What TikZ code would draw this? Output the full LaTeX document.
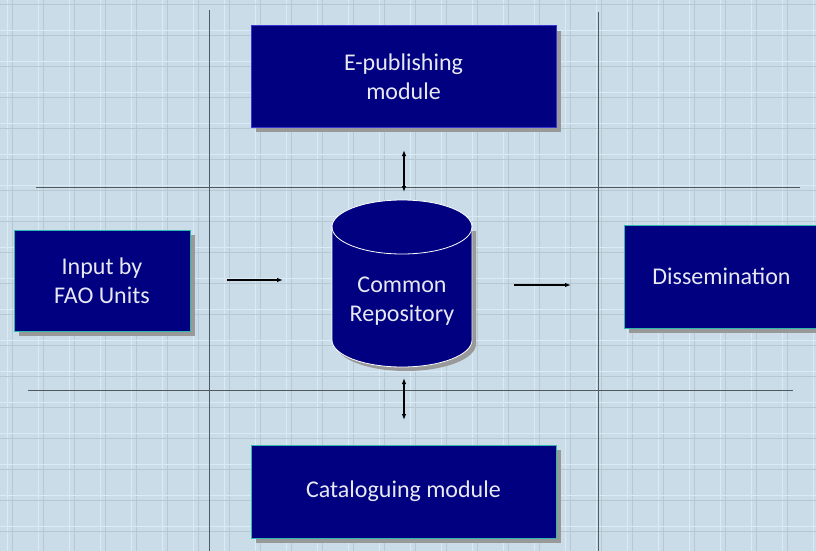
\documentclass[tikz,border=0pt]{standalone}
\usepackage{fontspec}
\setmainfont{Carlito}
\usetikzlibrary{arrows.meta}
\definecolor{bgblue}{HTML}{C9DCE8}
\definecolor{gridlight}{HTML}{D9EBF6}
\definecolor{gridgray}{HTML}{B7C8D3}
\definecolor{boxnavy}{HTML}{000080}
\definecolor{boxedge}{HTML}{2FB8B0}
\definecolor{boxedgeblue}{HTML}{3838D0}
\definecolor{textpale}{HTML}{E8E8F2}
\definecolor{rule}{HTML}{505A60}
\tikzset{
  modbox/.style={draw=boxedge, line width=1pt, fill=boxnavy, text=textpale,
    font=\fontsize{24}{29}\selectfont, align=center, inner sep=0pt},
  shadowbox/.style={fill=black!40, draw=none},
  flow/.style={-{Latex[length=6pt,width=4.5pt]}, line width=1.1pt},
  biflow/.style={{Latex[length=6pt,width=4.5pt]}-{Latex[length=6pt,width=4.5pt]}, line width=1.1pt},
  divider/.style={draw=rule, line width=0.6pt}
}
\begin{document}
\begin{tikzpicture}[x=1pt,y=-1pt]
% background and plaid grid
\fill[bgblue] (0,0) rectangle (816,551);
\useasboundingbox (0,0) rectangle (816,551);
\foreach \k in {0,...,26} {
  \draw[gridgray, line width=0.6pt] ({12+31*\k},0) -- ({12+31*\k},551);
  \draw[gridlight, line width=0.9pt] ({7+31*\k},0) -- ({7+31*\k},551);
}
\foreach \k in {0,...,18} {
  \draw[gridgray, line width=0.6pt] (0,{4+31*\k}) -- (816,{4+31*\k});
  \draw[gridlight, line width=0.9pt] (0,{-1+31*\k}) -- (816,{-1+31*\k});
}
% dividing lines
\draw[divider] (209,10) -- (209,551);
\draw[divider] (598,12) -- (598,551);
\draw[divider] (36,187) -- (800,187);
\draw[divider] (28,390) -- (793,390);

% shadows
\fill[shadowbox] (256,31) rectangle (561,132);
\fill[shadowbox] (19,235) rectangle (195,336);
\fill[shadowbox] (629,230) rectangle (821,333);
\fill[shadowbox] (256,450) rectangle (561,543);

% modules
\node[modbox, draw=boxedgeblue, minimum width=305pt, minimum height=101pt] (epub) at (403.5,76.5) {E-publishing\\module};
\node[modbox, minimum width=176pt, minimum height=101pt] (input) at (102,280.5) {Input by\\FAO Units};
\node[modbox, minimum width=194pt, minimum height=103pt, anchor=west] (diss) at (624,276.5) {Dissemination};
\node[modbox, minimum width=305pt, minimum height=93pt] (catal) at (403.5,491.5) {Cataloguing module};

% repository cylinder
\fill[black!40] (336,231) -- (336,344) arc[start angle=180, end angle=360, x radius=70pt, y radius=27pt]
  -- (476,231) -- cycle;
\filldraw[fill=boxnavy, draw=white, line width=0.8pt]
  (332,227) -- (332,340) arc[start angle=180, end angle=360, x radius=70pt, y radius=27pt]
  -- (472,227) arc[start angle=0, end angle=180, x radius=70pt, y radius=27pt] -- cycle;
\draw[white, line width=0.8pt] (332,227) arc[start angle=180, end angle=360, x radius=70pt, y radius=27pt];
\node[text=textpale, font=\fontsize{24}{29}\selectfont, align=center, minimum width=140pt, minimum height=110pt] (repo) at (402,301) {Common\\Repository};

% flow connectors
\coordinate (inA) at (227,280);
\coordinate (inB) at (283,280);
\coordinate (outA) at (514,285);
\coordinate (outB) at (571,285);
\coordinate (upA) at (404,150);
\coordinate (upB) at (404,192);
\coordinate (dnA) at (404,378);
\coordinate (dnB) at (404,420);
\draw[flow] (inA) -- (inB);
\draw[flow] (outA) -- (outB);
\draw[biflow] (upA) -- (upB);
\draw[biflow] (dnA) -- (dnB);
\end{tikzpicture}
\end{document}
